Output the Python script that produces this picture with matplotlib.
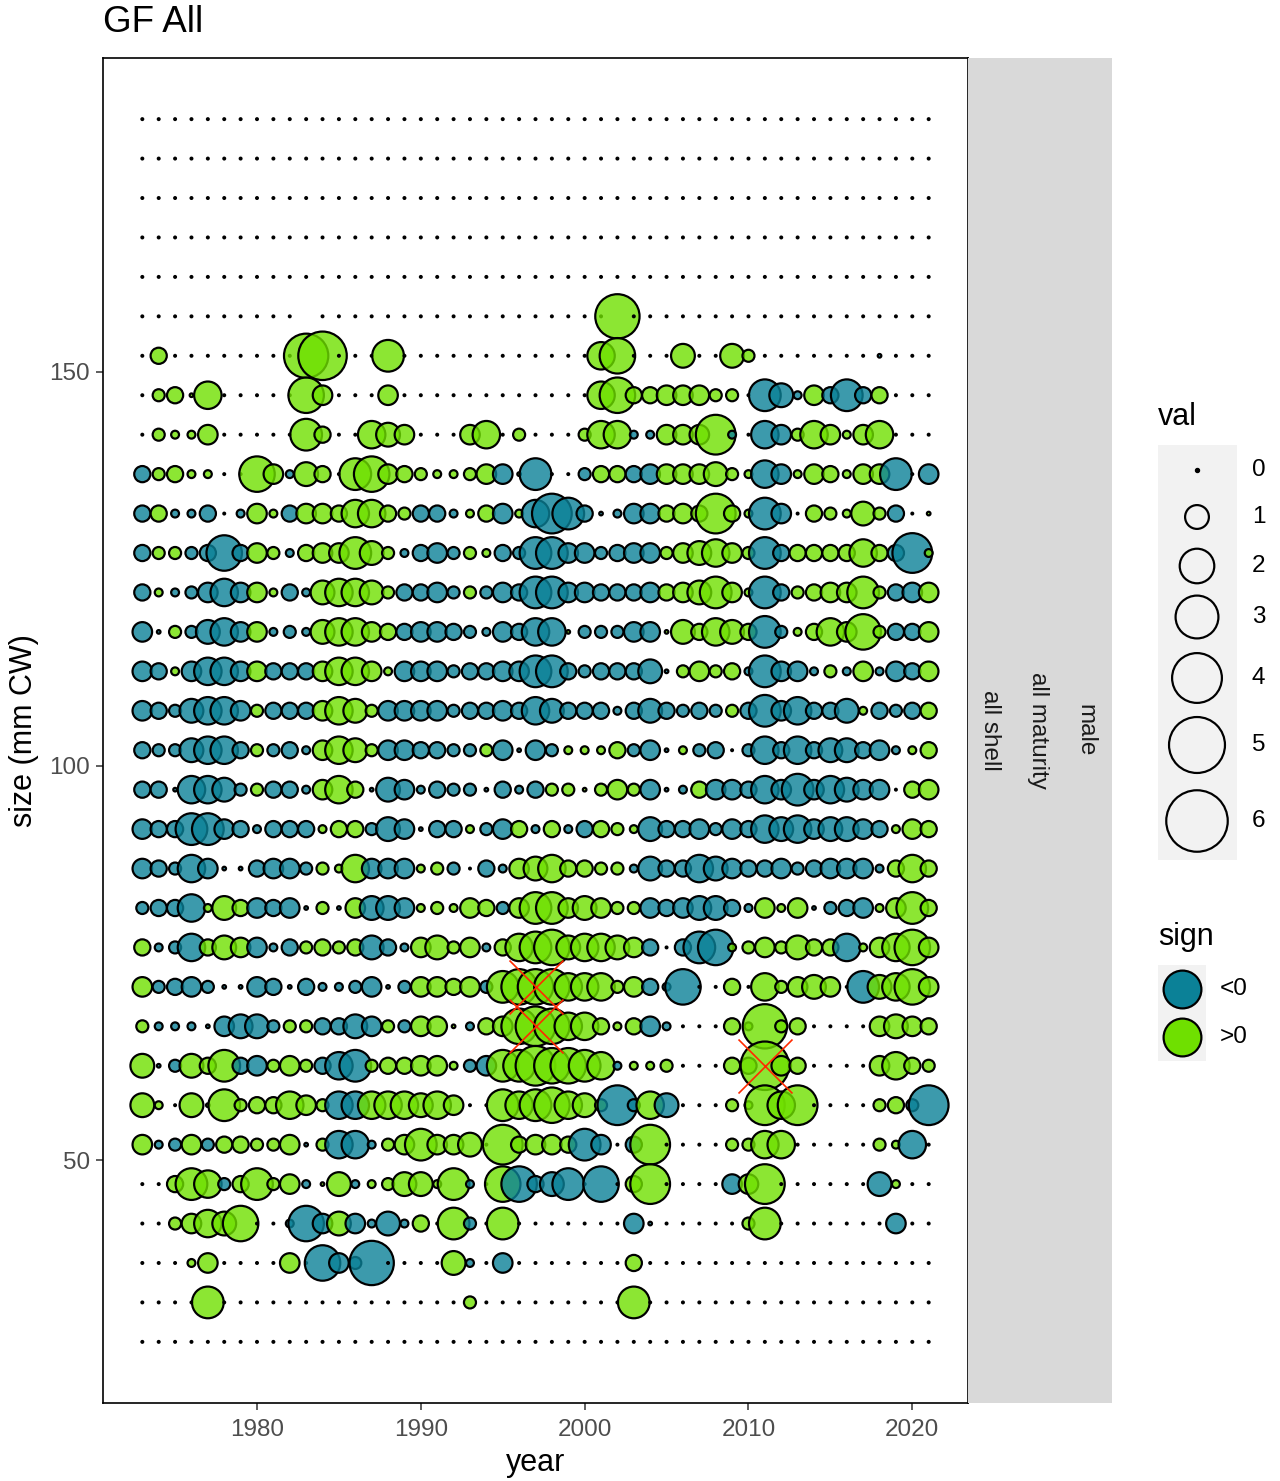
import numpy as np
import matplotlib
matplotlib.use("Agg")
import matplotlib.pyplot as plt
from matplotlib.patches import Rectangle

plt.rcParams["font.family"] = ["Liberation Sans", "DejaVu Sans"]

# grid of the chart: one row per size bin (top row first), one column per year
years = list(range(1973, 2022))
size_bins = list(range(182, 26, -5))

# codes: '.' = 0, '_' = no data, lowercase = negative (<0), uppercase = positive (>0)
code_vals = {"a": 0.05, "b": 0.15, "c": 0.3, "d": 0.5, "e": 0.7, "f": 1.0, "g": 1.3,
             "h": 1.7, "i": 2.1, "j": 2.6, "k": 3.2, "l": 3.8, "m": 4.5}

# each row: 1973-1989 | 1990-2006 | 2007-2021
rows = [
    ("." * 17, "." * 17, "." * 15),                                   # 182
    ("." * 17, "." * 17, "." * 15),                                   # 177
    ("." * 17, "." * 17, "." * 15),                                   # 172
    ("." * 17, "." * 17, "." * 15),                                   # 167
    ("." * 17, "." * 17, "." * 15),                                   # 162
    (".........._......", "............K....", "." * 15),            # 157
    (".D........KL...H.", "...........GI...F", "..FC.......a..."),   # 152
    (".CDAG.....IE...E.", "...........GIDDEE", "ECC.hfbEdhdD..."),   # 147
    (".CBBE.....HD..GFE", "...EG.C...CGGbbEE", "EJb.geCGEBEG..."),   # 142
    ("dCDBB..IEbFD.HIED", "CBBCEeAh..cDDdeEE", "EFCBgeBEDBEEh.e"),   # 137
    ("dDbbd.bEBdEEDGGDC", "ddbBDeBgjhdabeeDE", "DJDBhe.DCBFCd.A"),   # 132
    ("dCCcdidECbDEEHFCb", "decCBdchheecdeeCE", "FGEChdDDDDGDdjB"),   # 127
    ("dBbcegeEBdbFGGFCd", "decCcedhheedddeDE", "FHEBhdCDEEHCdeE"),   # 122
    ("eaCcfgeEbcbFGGEDd", "eedcbedggAccceeAF", "DGFDhcBDGEICddE"),   # 117
    ("edBeggeEdddEGGEBe", "eecddeehhdcdddfaC", "ECDbheebCbEbedE"),   # 112
    ("edcfggeCdddEGFCee", "eecddedgfdddbdfdc", "dcCdhegddfBdcdD"),   # 107
    ("dccfggdCcdbEGFCee", "ddccCeaecBBBDceaB", "cd.cgdgdffdebBD"),   # 102
    ("ddaggfcCddbEGDafe", "bdccadbdCCACECeab", "Deedgehegfee.DE"),   # 97
    ("eddhhedbdddBDDcfe", "addBceDbDbdDCBfdd", "ecedgfgeffedBED"),   # 92
    ("edcgeaadeecCBGeee", "BCc.dbEFGDDCCbfdd", "gfeddecdeeebDGD"),   # 87
    ("cddgBFDedeaCaEffe", "BCBEDcEHHEFECCede", "ffdbEBEacdeBEHD"),   # 82
    ("DbcgDFEebdCDCDfdb", "EFCEbDGHIFGGFEd.d", "hiBCECFDDgBEGIE"),   # 77
    ("Ecdecaaedadbbceac", "EEDEcHIIIGGGCEdbi", "..D.GCEFE.hFGIE"),   # 72
    ("CbbbaeffcCCddfeCc", "EEAbDEIJIGGDBDeb.", "..DBKCD....EFED"),   # 67
    ("FacFDHdeCECdghCDD", "EEBceHHJIIHGbBBC.", "..DDLED....EGDC"),   # 62
    ("FB.FAHCDDGECggGGG", "FGE..HGHIGFCjcGf.", "..CBJGJ....CDcj"),   # 57
    ("EbcEcDDCCEaCggbCE", "HEEF.JDEEDhe.dJ..", "..CCGG.....CBg."),   # 52
    ("..DHGcDHCEbAFbBCF", "FBHb.Iidfh.i.DJ..", "..eEJ......fB.."),   # 47
    ("..CEGFI..bieFebfb", "D.Hc.H.......ea..", "...CH.......e.."),   # 42
    ("...BE....E.ieck..", "..Fb.e.......D...", "." * 15),            # 37
    ("....H............", "...C.........H...", "." * 15),            # 32
    ("." * 17, "." * 17, "." * 15),                                   # 27
]

# flagged cells (red crosses)
flag_years = [1997, 1997, 2011]
flag_sizes = [72, 67, 62]

val_breaks = [0, 1, 2, 3, 4, 5, 6]
sign_labels = ["<0", ">0"]

neg_col = "#0B8197"
pos_col = "#6FE000"
ALPHA = 0.8
DPI = 100
LW_PX = 2.2
DOT_PX = 4.0


def diam_px(v):
    return 26.0 * np.sqrt(v)


def s_from_diam(d):
    return (max(d - LW_PX, 0.6) * 72.0 / DPI) ** 2


# build point table
xs, ys, ss, fcs, ecs, lws = [], [], [], [], [], []
for sz, segs in zip(size_bins, rows):
    line = "".join(segs)
    assert len(line) == len(years), (sz, len(line))
    for yr, ch in zip(years, line):
        if ch == "_":
            continue
        xs.append(yr)
        ys.append(sz)
        if ch == ".":
            ss.append((DOT_PX * 72.0 / DPI) ** 2)
            fcs.append((0, 0, 0, 1))
            ecs.append((0, 0, 0, 0))
            lws.append(0)
        else:
            v = code_vals[ch.lower()]
            col = matplotlib.colors.to_rgba(pos_col if ch.isupper() else neg_col, ALPHA)
            ss.append(s_from_diam(diam_px(v)))
            fcs.append(col)
            ecs.append((0, 0, 0, 1))
            lws.append(LW_PX * 72.0 / DPI)

W, H = 1280, 1481
fig = plt.figure(figsize=(W / DPI, H / DPI), dpi=DPI)

pl, pr, pt, pb = 103, 968, 58, 1403
ax = fig.add_axes([pl / W, 1 - pb / H, (pr - pl) / W, (pb - pt) / H])
ax.scatter(xs, ys, s=ss, facecolors=fcs, edgecolors=ecs, linewidths=lws, zorder=2)
ax.scatter(flag_years, flag_sizes, marker="x", s=(54 * 0.72) ** 2, color="#FF2A00",
           linewidths=1.2, zorder=3)

ax.set_xlim(1970.6, 2023.4)
ax.set_ylim(19.25, 189.75)
ax.set_xticks([1980, 1990, 2000, 2010, 2020])
ax.set_yticks([50, 100, 150])
ax.tick_params(axis="both", length=5, width=1.1, color="#333333", labelcolor="#4D4D4D",
               labelsize=17.5)
ax.tick_params(axis="x", pad=6.5)
ax.tick_params(axis="y", pad=4.5)
for sp in ax.spines.values():
    sp.set_linewidth(1.2)
    sp.set_color("black")

# facet strips
sax = fig.add_axes([pr / W, 1 - pb / H, 144 / W, (pb - pt) / H])
sax.set_facecolor("#D9D9D9")
sax.set_xticks([])
sax.set_yticks([])
for sp in sax.spines.values():
    sp.set_visible(False)
yc = 1 - (pt + pb) / 2 / H
for xp, lab in zip([990, 1038, 1085], ["all shell", "all maturity", "male"]):
    fig.text(xp / W, yc, lab, rotation=-90, ha="center", va="center", fontsize=17.5,
             color="#1A1A1A")

# titles
fig.text(pl / W, 1 - 23 / H, "GF All", ha="left", va="center", fontsize=26.5)
fig.text((pl + pr) / 2 / W, 1 - 1463 / H, "year", ha="center", va="center", fontsize=22)
fig.text(24 / W, yc, "size (mm CW)", rotation=90, ha="center", va="center", fontsize=22)

# legends (pixel coordinate overlay)
lax = fig.add_axes([0, 0, 1, 1])
lax.set_xlim(0, W)
lax.set_ylim(H, 0)
lax.axis("off")

lax.text(1158, 417, "val", ha="left", va="center", fontsize=22)
lax.add_patch(Rectangle((1158, 445), 79, 415, facecolor="#F2F2F2", edgecolor="none"))
key_y = [470, 517, 566, 617, 678, 745, 821]
for v, ky in zip(val_breaks, key_y):
    if v == 0:
        lax.scatter([1197], [ky], s=(DOT_PX * 0.72) ** 2, color="black", zorder=3)
    else:
        lax.scatter([1197], [ky], s=s_from_diam(diam_px(v)), facecolors="none",
                    edgecolors="black", linewidths=LW_PX * 0.72, zorder=3)
    lax.text(1252, ky, str(v), ha="left", va="center", fontsize=17.5)

lax.text(1158, 937, "sign", ha="left", va="center", fontsize=22)
lax.add_patch(Rectangle((1158, 965), 48, 96, facecolor="#F2F2F2", edgecolor="none"))
for lab, col, ky in zip(sign_labels, [neg_col, pos_col], [989, 1037]):
    lax.scatter([1182], [ky], s=s_from_diam(40), facecolors=[matplotlib.colors.to_rgba(col, 1.0)],
                edgecolors="black", linewidths=LW_PX * 0.72, zorder=3)
    lax.text(1220, ky, lab, ha="left", va="center", fontsize=17.5)

fig.savefig("out.png", dpi=DPI)
